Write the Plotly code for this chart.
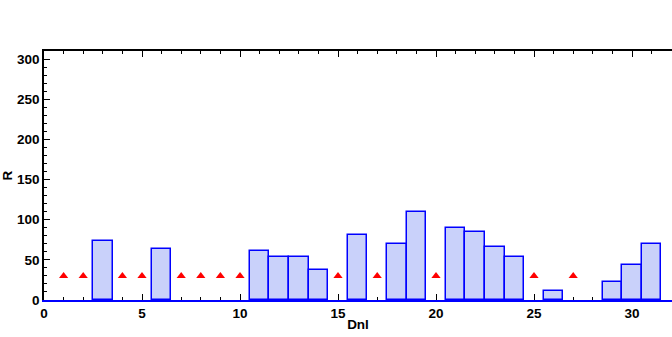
import plotly.graph_objects as go

# Bar data (Dnl category -> R)
bar_x = [3, 6, 11, 12, 13, 14, 16, 18, 19, 21, 22, 23, 24, 26, 29, 30, 31]
bar_y = [73, 63, 61, 53, 53, 37, 81, 70, 110, 90, 85, 66, 53, 11, 23, 43, 70]

# Triangle markers
tri_x = [1, 2, 4, 5, 7, 8, 9, 10, 15, 17, 20, 25, 27]
tri_y = [30] * len(tri_x)

font = dict(family="Liberation Sans, Arial, sans-serif", size=13.5, color="black",
            weight="bold")

fig = go.Figure()
fig.add_trace(go.Bar(
    x=bar_x, y=bar_y, width=1,
    marker=dict(color="#c9d1fa", line=dict(color="#0000ff", width=1.5)),
    showlegend=False, hoverinfo="skip"))
fig.add_trace(go.Scatter(
    x=tri_x, y=tri_y, mode="markers", xaxis="x2",
    marker=dict(symbol="triangle-up", color="#ff0000", size=8),
    showlegend=False, hoverinfo="skip"))

minor_x = dict(dtick=1, ticks="inside", ticklen=3, tickcolor="black", showgrid=False)

fig.update_layout(
    width=672, height=337,
    margin=dict(l=44, r=0, t=51, b=37),
    paper_bgcolor="white", plot_bgcolor="white",
    font=font, bargap=0, hovermode=False,
    xaxis=dict(
        range=[0, 32.04], tickmode="linear", tick0=0, dtick=5,
        ticks="inside", ticklen=6, tickwidth=1, tickcolor="black",
        showline=True, linecolor="#0000ff", linewidth=1.5,
        showgrid=False, zeroline=False, automargin=False, layer="below traces",
        minor=minor_x,
        title=dict(text="Dnl", font=font, standoff=0),
        tickfont=font,
    ),
    xaxis2=dict(
        overlaying="x", matches="x", side="top",
        range=[0, 32.04], tickmode="linear", tick0=0, dtick=5,
        ticks="inside", ticklen=6, tickwidth=1, tickcolor="black",
        showline=True, linecolor="black", linewidth=1.5,
        showticklabels=False, showgrid=False, zeroline=False, automargin=False,
        minor=minor_x,
    ),
    yaxis=dict(
        range=[0, 310], tickmode="linear", tick0=0, dtick=50,
        ticks="inside", ticklen=6, tickwidth=1, tickcolor="black",
        showline=True, linecolor="black", linewidth=1.5,
        showgrid=False, zeroline=False, automargin=False,
        minor=dict(dtick=10, ticks="inside", ticklen=3, tickcolor="black", showgrid=False),
        title=dict(text="R", font=font, standoff=2),
        tickfont=font,
    ),
)

fig.write_html("out.html", config={"displayModeBar": False},
               post_script="document.body.style.margin='0';")
